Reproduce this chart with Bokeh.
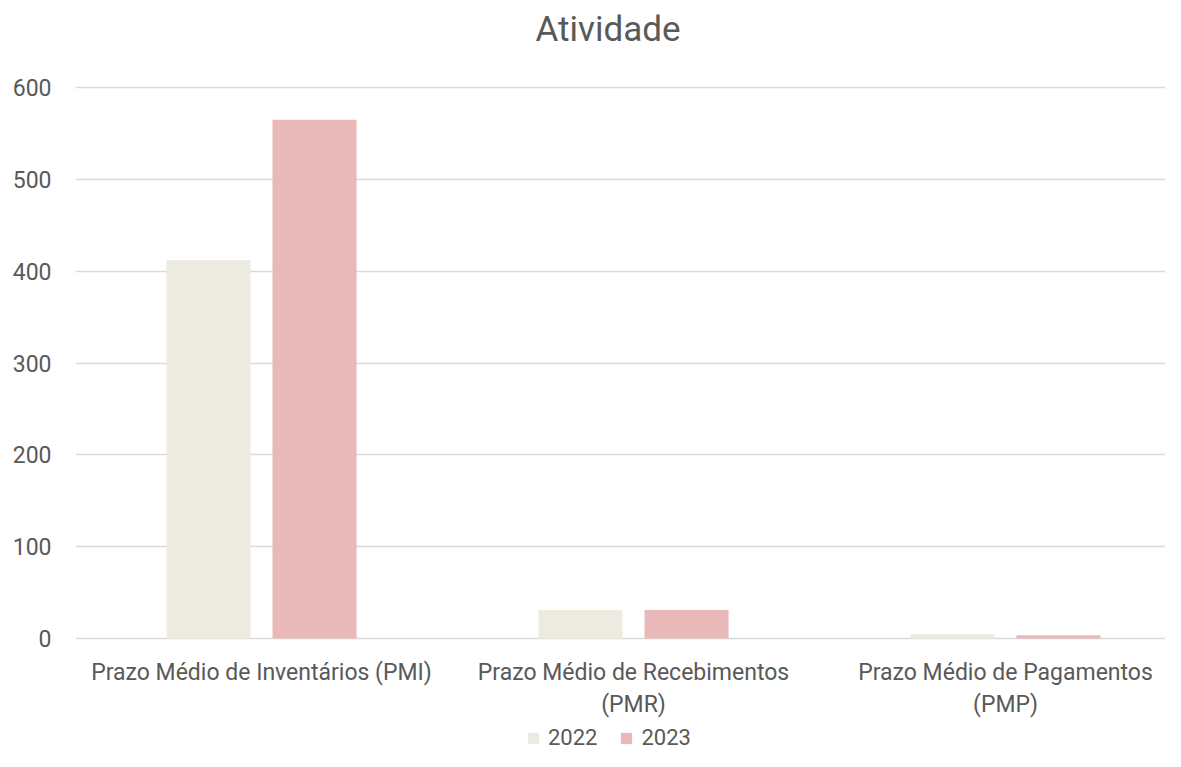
from bokeh.plotting import figure
from bokeh.models import ColumnDataSource, Range1d, FixedTicker, Legend, LegendItem, Label, LabelSet
from bokeh.core.properties import value
from bokeh.embed import file_html
from bokeh.resources import INLINE

categories = ["Prazo Médio de Inventários (PMI)", "Prazo Médio de Recebimentos\n(PMR)", "Prazo Médio de Pagamentos\n(PMP)"]
series_names = ["2022", "2023"]
values_2022 = [412, 31, 5]
values_2023 = [565, 31, 3.5]
y_ticks = [0, 100, 200, 300, 400, 500, 600]

colors = ["#EDEBE0", "#E8B9B8"]
text_color = "#595959"
font = "Roboto"

W, H = 1165, 751
left = 75
y_top_px, y_zero_px = 87, 638          # where 600 and 0 sit on the page
px_per_unit = (y_zero_px - y_top_px) / 600.0
y_max = 600 + y_top_px / px_per_unit
y_min = -(H - y_zero_px) / px_per_unit

centers = [i + 0.5 for i in range(len(categories))]
offset = 0.1425
bar_w = 0.226

p = figure(frame_width=W - left, frame_height=H, output_backend="svg", toolbar_location=None,
           x_range=Range1d(0, 2.930), y_range=Range1d(y_min, y_max),
           min_border_left=left, min_border_right=0, min_border_top=0, min_border_bottom=0)
p.outline_line_color = None
p.background_fill_color = "white"
p.border_fill_color = "white"

src1 = ColumnDataSource(dict(x=[c - offset for c in centers], top=values_2022))
src2 = ColumnDataSource(dict(x=[c + offset for c in centers], top=values_2023))
r1 = p.vbar(x="x", top="top", width=bar_w, bottom=0, source=src1, fill_color=colors[0], line_color=None)
r2 = p.vbar(x="x", top="top", width=bar_w, bottom=0, source=src2, fill_color=colors[1], line_color=None)

# title
p.add_layout(Label(x=532.5, y=H - 29, x_units="screen", y_units="screen", text="Atividade",
                   text_align="center", text_baseline="alphabetic", text_font=font,
                   text_font_size="35px", text_color=text_color))

# category labels (x axis), one entry per line so each line is centred
p.xaxis.visible = False
lx, ly, lt = [], [], []
for c, cat in zip(centers, categories):
    for k, line in enumerate(cat.split("\n")):
        lx.append(c)
        ly.append(H - 658 - 32 * k)
        lt.append(line)
cat_src = ColumnDataSource(dict(x=lx, y=ly, label=lt))
p.add_layout(LabelSet(x="x", y="y", y_units="screen", text="label", source=cat_src,
                      text_align="center", text_baseline="top", text_font=value(font),
                      text_font_size=value("23px"), text_color=text_color))

p.yaxis.ticker = FixedTicker(ticks=y_ticks)
ax = p.yaxis
ax.axis_line_color = None
ax.major_tick_line_color = None
ax.minor_tick_line_color = None
ax.major_tick_out = 0
ax.major_tick_in = 0
ax.major_label_text_font = font
ax.major_label_text_font_size = "23px"
ax.major_label_text_color = text_color
ax.major_label_standoff = 24

p.xgrid.grid_line_color = None
p.ygrid.ticker = FixedTicker(ticks=y_ticks)
p.ygrid.grid_line_color = "#D9D9D9"
p.ygrid.grid_line_width = 1.5

legend = Legend(items=[LegendItem(label=series_names[0], renderers=[r1]),
                       LegendItem(label=series_names[1], renderers=[r2])],
                orientation="horizontal", location=(451, 1),
                label_text_font=font, label_text_font_size="22px", label_text_color=text_color,
                glyph_width=14, glyph_height=14, spacing=22, label_standoff=8,
                border_line_color=None, background_fill_alpha=0, margin=0, padding=0)
p.add_layout(legend, "center")

open("out.html", "w").write(file_html(p, INLINE))
